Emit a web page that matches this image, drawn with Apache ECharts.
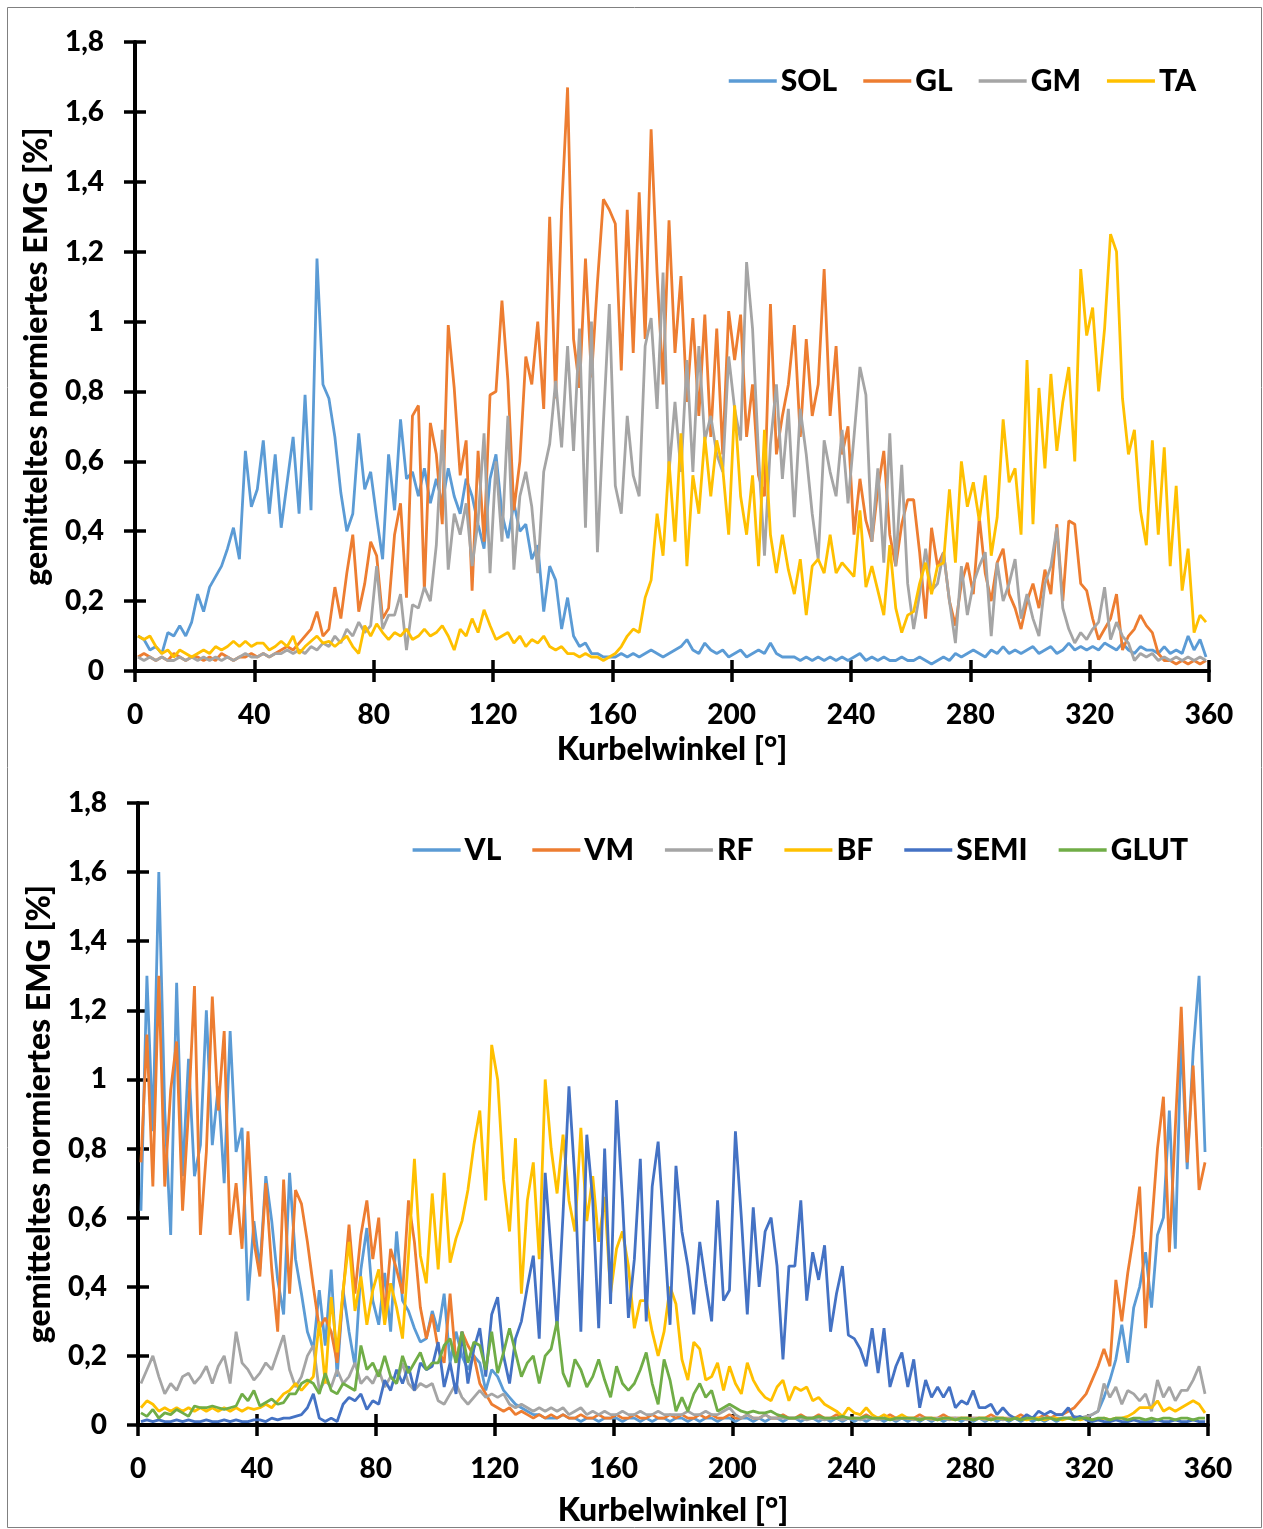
<!DOCTYPE html>
<html><head><meta charset="utf-8">
<script src="https://cdn.jsdelivr.net/npm/echarts@6/dist/echarts.min.js"></script>
<style>html,body{margin:0;padding:0;background:#fff}#c{width:1263px;height:1529px}</style>
</head><body><div id="c"></div>
<script>
// Crank angle samples (degrees)
const angles = [
1,3,5,7,9,11,13,15,17,19, 21,23,25,27,29,31,33,35,37,39, 41,43,45,47,49,51,53,55,57,59,
61,63,65,67,69,71,73,75,77,79, 81,83,85,87,89,91,93,95,97,99, 101,103,105,107,109,111,113,115,117,119,
121,123,125,127,129,131,133,135,137,139, 141,143,145,147,149,151,153,155,157,159, 161,163,165,167,169,171,173,175,177,179,
181,183,185,187,189,191,193,195,197,199, 201,203,205,207,209,211,213,215,217,219, 221,223,225,227,229,231,233,235,237,239,
241,243,245,247,249,251,253,255,257,259, 261,263,265,267,269,271,273,275,277,279, 281,283,285,287,289,291,293,295,297,299,
301,303,305,307,309,311,313,315,317,319, 321,323,325,327,329,331,333,335,337,339, 341,343,345,347,349,351,353,355,357,359];

const xTicks = [0,40,80,120,160,200,240,280,320,360];
const yTicks = [0,0.2,0.4,0.6,0.8,1,1.2,1.4,1.6,1.8];

// ---- Top chart: lower leg ----
const SOL = [
0.10,0.09,0.06,0.07,0.05,0.11,0.10,0.13,0.10,0.14, 0.22,0.17,0.24,0.27,0.30,0.35,0.41,0.32,0.63,0.47,
0.52,0.66,0.45,0.62,0.41,0.54,0.67,0.45,0.79,0.46, 1.18,0.82,0.78,0.67,0.51,0.40,0.45,0.68,0.52,0.57,
0.44,0.32,0.62,0.46,0.72,0.55,0.57,0.50,0.58,0.48, 0.55,0.48,0.58,0.50,0.45,0.55,0.50,0.42,0.35,0.55,
0.62,0.45,0.38,0.48,0.40,0.42,0.32,0.36,0.17,0.30, 0.26,0.12,0.21,0.10,0.07,0.08,0.05,0.05,0.04,0.04,
0.04,0.05,0.04,0.05,0.04,0.05,0.06,0.05,0.04,0.05, 0.06,0.07,0.09,0.06,0.05,0.08,0.06,0.05,0.06,0.04,
0.05,0.06,0.04,0.05,0.06,0.05,0.08,0.05,0.04,0.04, 0.04,0.03,0.04,0.03,0.04,0.03,0.04,0.03,0.04,0.03,
0.04,0.05,0.03,0.04,0.03,0.04,0.03,0.03,0.04,0.03, 0.03,0.04,0.03,0.02,0.03,0.04,0.03,0.05,0.04,0.05,
0.06,0.05,0.04,0.06,0.05,0.07,0.05,0.06,0.05,0.06, 0.07,0.05,0.06,0.07,0.05,0.06,0.08,0.06,0.07,0.06,
0.07,0.06,0.08,0.07,0.06,0.08,0.06,0.05,0.07,0.06, 0.06,0.05,0.07,0.05,0.06,0.05,0.10,0.06,0.09,0.04];
const GL = [
0.04,0.05,0.04,0.03,0.04,0.03,0.05,0.04,0.03,0.04, 0.04,0.03,0.04,0.03,0.05,0.04,0.03,0.04,0.04,0.05,
0.04,0.05,0.04,0.05,0.06,0.07,0.06,0.08,0.10,0.12, 0.17,0.10,0.12,0.24,0.15,0.28,0.39,0.17,0.25,0.37,
0.33,0.15,0.18,0.39,0.48,0.21,0.73,0.76,0.23,0.71, 0.62,0.42,0.99,0.81,0.56,0.66,0.23,0.63,0.37,0.79,
0.80,1.06,0.83,0.46,0.60,0.90,0.82,1.00,0.75,1.30, 0.78,1.32,1.67,0.95,0.81,1.18,0.84,1.11,1.35,1.32,
1.28,0.86,1.32,0.91,1.37,0.95,1.55,1.14,0.82,1.29, 0.91,1.13,0.77,1.01,0.73,1.02,0.67,0.98,0.62,1.03,
0.89,1.02,0.67,0.82,0.56,0.50,1.05,0.62,0.73,0.82, 0.99,0.67,0.95,0.73,0.82,1.15,0.73,0.93,0.62,0.70,
0.39,0.55,0.43,0.37,0.52,0.63,0.39,0.30,0.42,0.49, 0.49,0.34,0.15,0.41,0.30,0.34,0.20,0.13,0.25,0.31,
0.22,0.44,0.28,0.20,0.31,0.35,0.22,0.18,0.12,0.20, 0.25,0.18,0.29,0.22,0.42,0.20,0.43,0.42,0.25,0.23,
0.15,0.09,0.12,0.15,0.22,0.06,0.10,0.12,0.16,0.13, 0.11,0.05,0.03,0.03,0.02,0.03,0.02,0.03,0.02,0.03];
const GM = [
0.04,0.03,0.04,0.03,0.04,0.03,0.03,0.04,0.03,0.04, 0.03,0.04,0.03,0.04,0.03,0.04,0.03,0.04,0.05,0.04,
0.04,0.05,0.04,0.05,0.05,0.06,0.05,0.06,0.05,0.07, 0.06,0.08,0.07,0.10,0.08,0.12,0.10,0.14,0.11,0.13,
0.30,0.12,0.16,0.16,0.22,0.06,0.19,0.18,0.24,0.20, 0.36,0.69,0.29,0.45,0.39,0.48,0.30,0.43,0.68,0.28,
0.60,0.37,0.73,0.29,0.50,0.57,0.47,0.28,0.57,0.65, 0.83,0.64,0.93,0.63,0.98,0.41,1.00,0.34,0.71,1.05,
0.53,0.45,0.73,0.56,0.50,0.93,1.01,0.75,1.14,0.57, 0.77,0.57,0.89,0.57,0.93,0.66,0.73,0.62,0.57,0.90,
0.75,0.66,1.17,0.98,0.62,0.33,0.65,0.82,0.55,0.75, 0.44,0.75,0.62,0.45,0.32,0.66,0.57,0.50,0.69,0.48,
0.67,0.87,0.79,0.37,0.58,0.31,0.68,0.30,0.59,0.25, 0.12,0.22,0.35,0.23,0.25,0.34,0.20,0.08,0.30,0.16,
0.25,0.30,0.34,0.10,0.31,0.20,0.25,0.32,0.15,0.22, 0.15,0.10,0.25,0.30,0.41,0.18,0.12,0.08,0.11,0.09,
0.12,0.14,0.24,0.09,0.14,0.10,0.08,0.03,0.05,0.04, 0.05,0.03,0.04,0.03,0.04,0.03,0.04,0.03,0.04,0.03];
const TA = [
0.10,0.09,0.10,0.07,0.05,0.06,0.04,0.06,0.05,0.04, 0.05,0.06,0.05,0.07,0.06,0.07,0.085,0.07,0.085,0.07,
0.08,0.08,0.06,0.07,0.085,0.07,0.10,0.05,0.07,0.085, 0.10,0.08,0.085,0.07,0.085,0.10,0.07,0.05,0.13,0.10,
0.135,0.11,0.09,0.11,0.10,0.12,0.09,0.10,0.12,0.10, 0.11,0.13,0.10,0.06,0.12,0.10,0.15,0.11,0.175,0.13,
0.09,0.10,0.11,0.08,0.10,0.07,0.09,0.08,0.10,0.07, 0.06,0.07,0.05,0.05,0.04,0.05,0.04,0.04,0.03,0.04,
0.05,0.07,0.10,0.12,0.11,0.21,0.26,0.45,0.33,0.60, 0.37,0.68,0.30,0.56,0.45,0.67,0.50,0.66,0.58,0.39,
0.76,0.50,0.39,0.56,0.30,0.69,0.39,0.28,0.39,0.29, 0.22,0.32,0.16,0.30,0.32,0.28,0.39,0.28,0.31,0.29,
0.27,0.46,0.24,0.30,0.23,0.16,0.36,0.18,0.11,0.16, 0.17,0.25,0.31,0.22,0.30,0.31,0.52,0.31,0.60,0.47,
0.54,0.43,0.56,0.33,0.44,0.72,0.54,0.58,0.39,0.89, 0.42,0.81,0.58,0.85,0.63,0.77,0.87,0.60,1.15,0.96,
1.04,0.80,0.98,1.25,1.20,0.78,0.62,0.69,0.46,0.36, 0.66,0.39,0.64,0.30,0.53,0.23,0.35,0.11,0.16,0.14];

// ---- Bottom chart: upper leg ----
const VL = [
0.62,1.30,0.85,1.60,0.91,0.55,1.28,0.72,1.06,0.72, 0.81,1.20,0.81,0.98,0.70,1.14,0.79,0.86,0.36,0.59,
0.45,0.72,0.59,0.42,0.32,0.73,0.48,0.38,0.27,0.22, 0.39,0.23,0.45,0.14,0.39,0.27,0.17,0.45,0.57,0.36,
0.29,0.44,0.27,0.56,0.36,0.33,0.28,0.24,0.25,0.33, 0.27,0.38,0.18,0.27,0.20,0.16,0.20,0.18,0.10,0.16,
0.14,0.10,0.08,0.06,0.05,0.04,0.03,0.03,0.02,0.02, 0.02,0.03,0.02,0.02,0.01,0.02,0.02,0.01,0.02,0.02,
0.02,0.01,0.02,0.02,0.01,0.02,0.01,0.02,0.02,0.01, 0.02,0.02,0.01,0.02,0.01,0.02,0.02,0.01,0.02,0.02,
0.01,0.02,0.02,0.01,0.02,0.01,0.02,0.02,0.01,0.02, 0.02,0.01,0.02,0.02,0.01,0.02,0.01,0.02,0.01,0.02,
0.01,0.02,0.01,0.02,0.02,0.01,0.02,0.01,0.02,0.01, 0.02,0.01,0.02,0.01,0.02,0.01,0.02,0.02,0.01,0.02,
0.01,0.02,0.01,0.02,0.01,0.02,0.01,0.02,0.01,0.02, 0.01,0.02,0.01,0.02,0.01,0.02,0.02,0.02,0.02,0.02,
0.03,0.04,0.08,0.13,0.19,0.29,0.18,0.34,0.40,0.50, 0.34,0.55,0.60,0.91,0.51,1.13,0.74,1.08,1.30,0.79];
const VM = [
0.76,1.13,0.69,1.30,0.69,0.97,1.11,0.62,0.91,1.27, 0.55,0.79,1.24,0.91,1.14,0.55,0.70,0.51,0.85,0.53,
0.43,0.70,0.45,0.27,0.71,0.38,0.68,0.64,0.53,0.40, 0.28,0.31,0.27,0.18,0.38,0.58,0.38,0.55,0.65,0.48,
0.60,0.31,0.51,0.45,0.38,0.65,0.53,0.34,0.25,0.32, 0.22,0.18,0.38,0.18,0.27,0.23,0.20,0.12,0.09,0.06,
0.05,0.04,0.05,0.03,0.04,0.03,0.02,0.03,0.02,0.03, 0.02,0.03,0.02,0.02,0.03,0.02,0.02,0.03,0.02,0.02,
0.03,0.02,0.02,0.03,0.02,0.02,0.03,0.02,0.02,0.03, 0.02,0.03,0.02,0.02,0.03,0.02,0.03,0.02,0.02,0.03,
0.02,0.02,0.03,0.02,0.02,0.03,0.02,0.02,0.03,0.02, 0.02,0.03,0.02,0.02,0.03,0.02,0.02,0.03,0.02,0.02,
0.02,0.02,0.03,0.02,0.02,0.02,0.03,0.02,0.02,0.02, 0.02,0.03,0.02,0.02,0.02,0.03,0.02,0.02,0.02,0.02,
0.02,0.02,0.02,0.03,0.02,0.02,0.02,0.02,0.03,0.02, 0.02,0.02,0.03,0.02,0.03,0.03,0.04,0.05,0.07,0.09,
0.13,0.17,0.22,0.17,0.42,0.30,0.44,0.55,0.69,0.28, 0.57,0.80,0.95,0.50,0.86,1.21,0.76,1.04,0.68,0.76];
const RF = [
0.12,0.16,0.20,0.14,0.09,0.12,0.10,0.14,0.15,0.12, 0.14,0.17,0.12,0.17,0.20,0.12,0.27,0.18,0.16,0.13,
0.15,0.18,0.16,0.21,0.26,0.16,0.11,0.14,0.20,0.23, 0.10,0.13,0.11,0.16,0.12,0.14,0.18,0.12,0.14,0.12,
0.16,0.11,0.14,0.12,0.18,0.12,0.10,0.12,0.11,0.12, 0.07,0.06,0.09,0.12,0.08,0.06,0.08,0.10,0.08,0.09,
0.08,0.09,0.06,0.05,0.06,0.05,0.04,0.05,0.04,0.05, 0.04,0.05,0.03,0.04,0.05,0.03,0.04,0.03,0.04,0.03,
0.03,0.04,0.03,0.03,0.04,0.03,0.03,0.04,0.03,0.03, 0.03,0.03,0.04,0.03,0.03,0.04,0.03,0.03,0.04,0.05,
0.03,0.02,0.03,0.02,0.02,0.03,0.02,0.02,0.02,0.02, 0.02,0.02,0.015,0.02,0.02,0.015,0.02,0.02,0.015,0.02,
0.02,0.015,0.02,0.02,0.015,0.02,0.02,0.015,0.02,0.02, 0.015,0.02,0.02,0.015,0.02,0.02,0.015,0.02,0.02,0.015,
0.02,0.02,0.015,0.02,0.02,0.015,0.02,0.02,0.015,0.02, 0.02,0.02,0.02,0.02,0.02,0.02,0.02,0.025,0.02,0.025,
0.03,0.04,0.12,0.08,0.11,0.06,0.10,0.09,0.07,0.09, 0.04,0.13,0.08,0.11,0.07,0.10,0.10,0.13,0.17,0.09];
const BF = [
0.05,0.07,0.06,0.04,0.05,0.04,0.05,0.04,0.05,0.04, 0.05,0.04,0.05,0.04,0.05,0.04,0.05,0.04,0.05,0.045,
0.05,0.06,0.05,0.07,0.09,0.10,0.12,0.10,0.12,0.14, 0.30,0.12,0.37,0.21,0.39,0.53,0.33,0.43,0.29,0.39,
0.45,0.29,0.41,0.34,0.25,0.49,0.77,0.49,0.41,0.67, 0.45,0.73,0.47,0.54,0.59,0.68,0.81,0.91,0.65,1.10,
1.00,0.71,0.56,0.83,0.38,0.65,0.76,0.48,1.00,0.80, 0.67,0.84,0.65,0.56,0.86,0.59,0.72,0.53,0.66,0.38,
0.51,0.56,0.46,0.28,0.36,0.36,0.27,0.20,0.27,0.40, 0.35,0.19,0.13,0.24,0.22,0.13,0.14,0.18,0.10,0.17,
0.12,0.09,0.18,0.13,0.10,0.08,0.07,0.11,0.13,0.07, 0.11,0.10,0.11,0.07,0.08,0.06,0.05,0.04,0.025,0.05,
0.035,0.03,0.05,0.03,0.02,0.03,0.02,0.02,0.03,0.02, 0.02,0.015,0.02,0.02,0.015,0.02,0.02,0.015,0.02,0.02,
0.015,0.02,0.02,0.015,0.02,0.02,0.015,0.02,0.02,0.015, 0.02,0.02,0.015,0.02,0.02,0.015,0.02,0.02,0.015,0.02,
0.015,0.015,0.02,0.015,0.02,0.02,0.025,0.035,0.05,0.05, 0.05,0.07,0.04,0.05,0.04,0.05,0.06,0.07,0.06,0.035];
const SEMI = [
0.01,0.015,0.01,0.015,0.01,0.01,0.015,0.01,0.015,0.01, 0.01,0.015,0.01,0.01,0.015,0.01,0.015,0.01,0.01,0.015,
0.015,0.01,0.02,0.015,0.02,0.02,0.025,0.03,0.05,0.09, 0.02,0.01,0.02,0.01,0.06,0.08,0.07,0.09,0.045,0.07,
0.06,0.13,0.10,0.16,0.12,0.17,0.10,0.18,0.16,0.17, 0.24,0.11,0.18,0.09,0.27,0.12,0.22,0.28,0.14,0.32,
0.37,0.20,0.12,0.25,0.30,0.40,0.49,0.25,0.73,0.50, 0.28,0.61,0.98,0.71,0.27,0.84,0.65,0.28,0.80,0.35,
0.94,0.65,0.31,0.48,0.77,0.30,0.69,0.82,0.56,0.29, 0.75,0.56,0.46,0.32,0.53,0.41,0.30,0.65,0.36,0.39,
0.85,0.60,0.32,0.63,0.40,0.56,0.60,0.46,0.19,0.46, 0.46,0.65,0.36,0.50,0.42,0.52,0.27,0.38,0.46,0.26,
0.25,0.22,0.17,0.28,0.15,0.28,0.11,0.17,0.21,0.11, 0.19,0.05,0.13,0.08,0.11,0.08,0.11,0.05,0.07,0.06,
0.10,0.05,0.05,0.06,0.03,0.05,0.03,0.02,0.015,0.03, 0.02,0.04,0.03,0.04,0.03,0.03,0.05,0.02,0.025,0.015,
0.01,0.015,0.01,0.01,0.015,0.01,0.01,0.015,0.01,0.01, 0.01,0.015,0.01,0.01,0.015,0.01,0.01,0.015,0.01,0.01];
const GLUT = [
0.035,0.025,0.045,0.02,0.035,0.03,0.045,0.035,0.025,0.055, 0.05,0.05,0.055,0.05,0.045,0.05,0.055,0.09,0.07,0.10,
0.055,0.065,0.075,0.06,0.065,0.09,0.09,0.12,0.13,0.12, 0.09,0.15,0.10,0.09,0.12,0.11,0.10,0.23,0.16,0.18,
0.14,0.20,0.14,0.12,0.20,0.15,0.18,0.21,0.16,0.18, 0.18,0.23,0.25,0.18,0.27,0.18,0.24,0.23,0.16,0.27,
0.15,0.21,0.28,0.21,0.14,0.18,0.20,0.12,0.20,0.22, 0.30,0.15,0.11,0.19,0.16,0.11,0.14,0.19,0.13,0.08,
0.17,0.12,0.10,0.12,0.16,0.21,0.12,0.06,0.19,0.13, 0.04,0.08,0.04,0.09,0.12,0.08,0.10,0.04,0.05,0.06,
0.05,0.04,0.035,0.04,0.035,0.035,0.04,0.03,0.025,0.02, 0.02,0.025,0.02,0.02,0.025,0.02,0.02,0.02,0.025,0.02,
0.02,0.02,0.025,0.02,0.02,0.02,0.015,0.02,0.02,0.02, 0.02,0.015,0.02,0.02,0.015,0.02,0.02,0.015,0.02,0.02,
0.015,0.02,0.02,0.015,0.02,0.02,0.015,0.02,0.015,0.02, 0.02,0.015,0.02,0.02,0.015,0.02,0.02,0.015,0.02,0.02,
0.015,0.02,0.02,0.015,0.02,0.02,0.015,0.02,0.02,0.015, 0.02,0.015,0.02,0.02,0.015,0.02,0.02,0.015,0.02,0.02];

const topNames = ['SOL','GL','GM','TA'];
const topSeries = [SOL, GL, GM, TA];
const botNames = ['VL','VM','RF','BF','SEMI','GLUT'];
const botSeries = [VL, VM, RF, BF, SEMI, GLUT];
const colors = {SOL:'#5B9BD5',GL:'#ED7D31',GM:'#A5A5A5',TA:'#FFC000',
  VL:'#5B9BD5',VM:'#ED7D31',RF:'#A5A5A5',BF:'#FFC000',SEMI:'#4472C4',GLUT:'#70AD47'};

const FONT = 'Lato, "Open Sans", sans-serif';
const txt = {fontFamily:FONT, fontWeight:900, fontSize:28, color:'#000'};
const nameTxt = {...txt, fontSize:32};
const legTxt = {...txt, fontSize:30};

function yFmt(v){ const r = Math.round(v*10)/10; return String(r).replace('.', ','); }

function xAxisDef(gi, main, nameGap){
  return {
    gridIndex: gi, type:'value', position:'bottom',
    min: xTicks[0], max: xTicks[xTicks.length-1], interval: xTicks[1]-xTicks[0],
    name: main ? 'Kurbelwinkel [°]' : '', nameLocation:'middle', nameGap: nameGap,
    nameTextStyle: nameTxt,
    axisLine:{show: main, onZero:false, lineStyle:{color:'#000', width:4}},
    axisTick:{show:true, inside:!main, length:11, lineStyle:{color:'#000', width:3.5}},
    axisLabel:{show: main, margin:30, ...txt},
    splitLine:{show:false}
  };
}
function yAxisDef(gi, main){
  return {
    gridIndex: gi, type:'value', position:'left',
    min: yTicks[0], max: yTicks[yTicks.length-1], interval: 0.2,
    name: main ? 'gemitteltes normiertes EMG [%]' : '', nameLocation:'middle', nameGap: 82,
    nameTextStyle: nameTxt,
    axisLine:{show: main, onZero:false, lineStyle:{color:'#000', width:4}},
    axisTick:{show:true, inside:!main, length:11, lineStyle:{color:'#000', width:3.5}},
    axisLabel:{show: main, margin:31, formatter: yFmt, ...txt},
    splitLine:{show:false}
  };
}

const series = [];
topNames.forEach((n,i)=>{
  series.push({name:n, type:'line', xAxisIndex:0, yAxisIndex:0, symbol:'none', showSymbol:false,
    lineStyle:{width:2.8, color:colors[n]}, itemStyle:{color:colors[n]},
    data: angles.map((a,k)=>[a, topSeries[i][k]])});
});
botNames.forEach((n,i)=>{
  series.push({name:n, type:'line', xAxisIndex:2, yAxisIndex:2, symbol:'none', showSymbol:false,
    lineStyle:{width:2.8, color:colors[n]}, itemStyle:{color:colors[n]},
    data: angles.map((a,k)=>[a, botSeries[i][k]])});
});

const chart = echarts.init(document.getElementById('c'));
chart.setOption({
  animation:false,
  backgroundColor:'#fff',
  graphic:[{type:'rect', shape:{x:7.5, y:7.5, width:1254, height:1520},
    style:{fill:'none', stroke:'#808080', lineWidth:1}, silent:true}],
  grid:[
    {left:135, top:42, width:1074, height:629},
    {left:138, top:803, width:1070, height:622}
  ],
  xAxis:[xAxisDef(0,true,63), xAxisDef(0,false,0), xAxisDef(1,true,70), xAxisDef(1,false,0)],
  yAxis:[yAxisDef(0,true), yAxisDef(0,false), yAxisDef(1,true), yAxisDef(1,false)],
  legend:[
    {data:topNames, right:62, top:61, icon:'rect', itemWidth:48, itemHeight:3.5, itemGap:26,
     textStyle:{...legTxt, padding:[0,0,0,-1]}},
    {data:botNames, right:70, top:830, icon:'rect', itemWidth:48, itemHeight:3.5, itemGap:31,
     textStyle:{...legTxt, padding:[0,0,0,-1]}}
  ],
  series: series
});
</script>
</body></html>
